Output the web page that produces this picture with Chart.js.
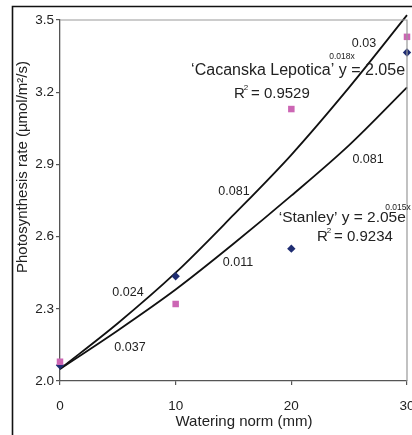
<!DOCTYPE html>
<html>
<head>
<meta charset="utf-8">
<script src="https://cdn.jsdelivr.net/npm/chart.js@4.4.1/dist/chart.umd.min.js"></script>
<style>
  html, body { margin: 0; padding: 0; background: #fff; overflow: hidden; }
  #wrap { position: relative; width: 412px; height: 435px; }
</style>
</head>
<body>
<div id="wrap"><canvas id="c" width="412" height="435"></canvas></div>
<script>
// ---- Data ----
const wateringNorm = [0, 10, 20, 30];
const lepoticaRate = [2.08, 2.32, 3.13, 3.43];
const stanleyRate  = [2.065, 2.435, 2.55, 3.365];
const trendX        = [0, 5, 10, 15, 20, 25, 30];
const lepoticaTrend = [2.05, 2.24, 2.45, 2.69, 2.94, 3.22, 3.52];
const stanleyTrend  = [2.05, 2.21, 2.38, 2.57, 2.77, 2.98, 3.22];
const xTickValues = [0, 10, 20, 30];
const yTickLabels = ['2.0', '2.3', '2.6', '2.9', '3.2', '3.5'];

const FONT = '"Liberation Sans", Arial, sans-serif';

const toPts = (xs, ys) => xs.map((x, i) => ({ x: x, y: ys[i] }));

// annotation texts anchored in data coordinates
const notes = [
  { t: '0.03', x: 26.28, y: 3.404, size: 12.5, align: 'center' },
  { t: '0.018x', x: 24.38, y: 3.346, size: 8.5, align: 'center' },
  { t: '\u2018Cacanska Lepotica\u2019 y = 2.05e', x: 29.83, y: 3.288, size: 16, align: 'right' },
  { t: 'R2', x: 15.04, y: 3.193, size: 15, align: 'left', r2: ' = 0.9529' },
  { t: '0.081', x: 15.04, y: 2.789, size: 12.5, align: 'center' },
  { t: '0.081', x: 26.63, y: 2.922, size: 12.5, align: 'center' },
  { t: '\u2018Stanley\u2019 y = 2.05e', x: 29.9, y: 2.677, size: 15.5, align: 'right' },
  { t: '0.015x', x: 29.22, y: 2.719, size: 8.5, align: 'center' },
  { t: 'R2', x: 22.22, y: 2.598, size: 15, align: 'left', r2: ' = 0.9234' },
  { t: '0.011', x: 15.39, y: 2.494, size: 12.5, align: 'center' },
  { t: '0.024', x: 5.88, y: 2.366, size: 12.5, align: 'center' },
  { t: '0.037', x: 6.05, y: 2.137, size: 12.5, align: 'center' }
];

const decor = {
  id: 'decor',
  beforeDraw(chart) {
    const ctx = chart.ctx;
    ctx.save();
    ctx.fillStyle = '#fff';
    ctx.fillRect(0, 0, chart.width, chart.height);
    ctx.restore();
  },
  afterDraw(chart) {
    const ctx = chart.ctx;
    const a = chart.chartArea;
    const xs = chart.scales.x, ys = chart.scales.y;
    ctx.save();
    // outer frame (top + left)
    ctx.strokeStyle = '#111';
    ctx.lineWidth = 1.6;
    ctx.beginPath();
    ctx.moveTo(12.5, chart.height);
    ctx.lineTo(12.5, 6.5);
    ctx.lineTo(chart.width, 6.5);
    ctx.stroke();
    // plot area top + right border
    ctx.strokeStyle = '#999';
    ctx.lineWidth = 1.2;
    ctx.beginPath();
    ctx.moveTo(a.left, a.top);
    ctx.lineTo(a.right, a.top);
    ctx.lineTo(a.right, a.bottom);
    ctx.stroke();

    // annotations
    ctx.fillStyle = '#222';
    ctx.textBaseline = 'middle';
    notes.forEach(n => {
      const px = xs.getPixelForValue(n.x);
      const py = ys.getPixelForValue(n.y);
      ctx.font = n.size + 'px ' + FONT;
      if (n.r2) {
        ctx.textAlign = 'left';
        ctx.fillText('R', px, py);
        const rw = ctx.measureText('R').width;
        ctx.font = '8px ' + FONT;
        ctx.fillText('2', px + rw - 1, py - 6);
        ctx.font = n.size + 'px ' + FONT;
        ctx.fillText(n.r2, px + rw + 2, py);
      } else {
        ctx.textAlign = n.align;
        ctx.fillText(n.t, px, py);
      }
    });

    // axis titles
    ctx.font = '15px ' + FONT;
    ctx.textAlign = 'center';
    ctx.fillText('Watering norm (mm)', 244, 422);
    ctx.translate(23, 167);
    ctx.rotate(-Math.PI / 2);
    ctx.fillText('Photosynthesis rate (\u00B5mol/m\u00B2/s)', 0, 0);
    ctx.restore();
  }
};

new Chart(document.getElementById('c'), {
  type: 'scatter',
  data: {
    datasets: [
      {
        label: 'Cacanska Lepotica',
        data: toPts(wateringNorm, lepoticaRate),
        pointStyle: 'rect',
        pointRadius: 4.6,
        backgroundColor: '#cc66b4',
        borderColor: '#cc66b4',
        borderWidth: 0,
        clip: false
      },
      {
        label: 'Stanley',
        data: toPts(wateringNorm, stanleyRate),
        pointStyle: 'rectRot',
        pointRadius: 4.2,
        backgroundColor: '#1f2d72',
        borderColor: '#1f2d72',
        borderWidth: 0,
        clip: false
      },
      {
        label: 'Lepotica trend',
        data: toPts(trendX, lepoticaTrend),
        showLine: true,
        pointRadius: 0,
        borderColor: '#111',
        borderWidth: 1.8,
        cubicInterpolationMode: 'monotone',
        clip: false
      },
      {
        label: 'Stanley trend',
        data: toPts(trendX, stanleyTrend),
        showLine: true,
        pointRadius: 0,
        borderColor: '#111',
        borderWidth: 1.8,
        cubicInterpolationMode: 'monotone',
        clip: false
      }
    ]
  },
  options: {
    responsive: false,
    animation: false,
    events: [],
    layout: { padding: { top: 20, right: 5, left: 0, bottom: 0 } },
    plugins: { legend: { display: false }, tooltip: { enabled: false } },
    scales: {
      x: {
        type: 'linear',
        min: 0, max: 30,
        afterBuildTicks(s) { s.ticks = xTickValues.map(v => ({ value: v })); },
        ticks: {
          font: { family: FONT, size: 13.5 },
          color: '#222',
          padding: 13,
          maxRotation: 0,
          callback: v => String(v)
        },
        grid: { drawOnChartArea: false, drawTicks: true, tickLength: 4, color: '#555', lineWidth: 1.2 },
        border: { color: '#555', width: 1.3 },
        afterFit(s) { s.height = 54; s.paddingLeft = 0; s.paddingRight = 0; }
      },
      y: {
        type: 'linear',
        min: 2.0, max: 3.5,
        afterBuildTicks(s) { s.ticks = yTickLabels.map(v => ({ value: parseFloat(v) })); },
        ticks: {
          font: { family: FONT, size: 13.5 },
          color: '#222',
          padding: 2,
          callback: (v) => yTickLabels.find(l => Math.abs(parseFloat(l) - v) < 1e-6) || ''
        },
        grid: { drawOnChartArea: false, drawTicks: true, tickLength: 4, color: '#555', lineWidth: 1.2 },
        border: { color: '#555', width: 1.3 },
        afterFit(s) { s.width = 60; s.paddingTop = 0; s.paddingBottom = 0; }
      }
    }
  },
  plugins: [decor]
});
</script>
</body>
</html>
